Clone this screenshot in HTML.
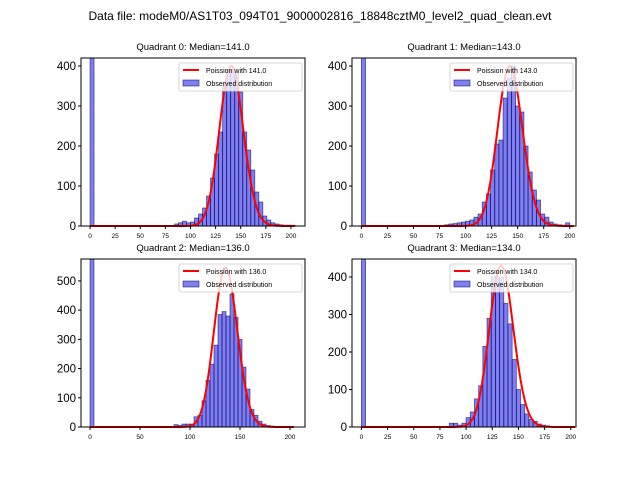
<!DOCTYPE html>
<html><head><meta charset="utf-8"><style>
body{margin:0;background:#fff;width:640px;height:480px;overflow:hidden}
svg{font-family:"Liberation Sans","DejaVu Sans",sans-serif}
</style></head><body>
<svg id="fig" width="640" height="480">
<text x="320" y="20" text-anchor="middle" font-size="12">Data file: modeM0/AS1T03_094T01_9000002816_18848cztM0_level2_quad_clean.evt</text>
</svg>
<script>
const binStarts=[0,80,84,88,92,96,100,104,108,112,116,120,124,128,132,136,140,144,148,152,156,160,164,168,172,176,180,184,188,192,196,200];
const q0Counts=[600,0,5,8,12,8,10,20,30,45,75,120,180,235,350,390,390,385,335,235,190,140,85,60,25,15,8,5,3,2,2,2];
const q1Counts=[600,3,5,6,8,10,12,15,22,30,60,80,140,205,215,320,370,400,300,285,200,135,90,65,30,22,10,5,3,2,8,0];
const q2Counts=[800,0,8,5,10,10,10,35,40,90,160,215,280,385,395,380,455,375,300,205,130,60,40,20,10,5,3,0,0,0,0,0];
const q3Counts=[600,0,10,10,5,10,25,40,75,110,215,290,400,400,400,330,275,180,100,60,35,20,15,8,5,3,0,0,0,0,0,0];
const medians=[141,143,136,134];
const peaks=[400,400,545,430];
const xTicks=[[0,25,50,75,100,125,150,175,200],[0,25,50,75,100,125,150,175,200],[0,50,100,150,200],[0,25,50,75,100,125,150,175,200]];
const yTicks=[[0,100,200,300,400],[0,100,200,300,400],[0,100,200,300,400,500],[0,100,200,300,400]];
const yMax=[420,420,575,448];
const xMin=[-9,-9,-9,-9],xMax=[214,206,215,205];
const boxes=[[81,58,305,226],[352,58,576,226],[81,259,305,427],[352,259,576,427]];
const counts=[q0Counts,q1Counts,q2Counts,q3Counts];
const NS="http://www.w3.org/2000/svg";
const fig=document.getElementById('fig');
function mk(t,a,p){const e=document.createElementNS(NS,t);for(const k in a)e.setAttribute(k,a[k]);(p||fig).appendChild(e);return e;}
function lgam(n){let s=0;for(let i=2;i<=n;i++)s+=Math.log(i);return s;}
for(let q=0;q<4;q++){
 const [L,T,R,B]=boxes[q];
 const g=mk('g',{});
 
 
 const sx=v=>L+(v-xMin[q])/(xMax[q]-xMin[q])*(R-L);
 const sy=v=>B-Math.min(v,yMax[q])/yMax[q]*(B-T);
 const cp=mk('clipPath',{id:'c'+q},g);mk('rect',{x:L,y:T,width:R-L,height:B-T},cp);
 const bars=mk('g',{'clip-path':'url(#c'+q+')'},g);
 binStarts.forEach((s,i)=>{const c=counts[q][i];if(!c)return;
  const r=mk('rect',{x:sx(s),y:sy(c),width:sx(s+4)-sx(s),height:B-sy(c),fill:'rgba(0,0,230,0.5)',stroke:'rgba(0,0,80,0.6)','stroke-width':0.8},bars);
  
  });
 const lam=medians[q];const pk=Math.exp(Math.floor(lam)*Math.log(lam)-lam-lgam(Math.floor(lam)));
 let d='';for(let k=0;k<=204;k++){const p=Math.exp(k*Math.log(lam)-lam-lgam(k))/pk*peaks[q];d+=(k?'L':'M')+sx(k).toFixed(1)+','+sy(p).toFixed(1);}
 const pl=mk('path',{d:d,fill:'none',stroke:'#f00','stroke-width':2},g);
 
 
 mk('rect',{x:L,y:T,width:R-L,height:B-T,fill:'none',stroke:'#000','stroke-width':1},g);
 xTicks[q].forEach(v=>{mk('line',{x1:sx(v),x2:sx(v),y1:B,y2:B+3,stroke:'#000'},g);
  const t=mk('text',{x:sx(v),y:B+12,'font-size':6.5,'text-anchor':'middle'},g);t.textContent=v;
  
  });
 yTicks[q].forEach(v=>{mk('line',{x1:L-3,x2:L,y1:sy(v),y2:sy(v),stroke:'#000'},g);
  const t=mk('text',{x:L-5,y:sy(v)+4,'font-size':11.5,'text-anchor':'end'},g);t.textContent=v;
  
  });
 const tt=mk('text',{x:(L+R)/2,y:T-8,'font-size':9.5,'text-anchor':'middle'},g);tt.textContent='Quadrant '+q+': Median='+medians[q].toFixed(1);
 
 
 const lg=mk('g',{},g);
 
 
 mk('rect',{x:R-126,y:T+5,width:123,height:28,fill:'rgba(255,255,255,0.8)',stroke:'#ccc','stroke-width':0.8,rx:2},lg);
 mk('line',{x1:R-122,x2:R-106,y1:T+12,y2:T+12,stroke:'#f00','stroke-width':2},lg);
 const l1=mk('text',{x:R-99,y:T+15,'font-size':7},lg);l1.textContent='Poission with '+medians[q].toFixed(1);
 mk('rect',{x:R-122,y:T+22,width:16,height:6,fill:'rgba(0,0,230,0.5)',stroke:'rgba(0,0,80,0.6)','stroke-width':0.8},lg);
 const l2=mk('text',{x:R-99,y:T+28,'font-size':7},lg);l2.textContent='Observed distribution';
}
</script>
</body></html>
